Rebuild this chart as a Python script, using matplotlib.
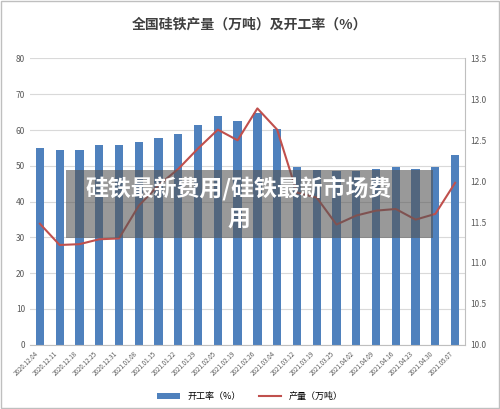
import matplotlib
matplotlib.use("Agg")
import matplotlib.pyplot as plt
from matplotlib.patches import Rectangle

plt.rcParams['font.family'] = ['Noto Sans CJK SC', 'DejaVu Sans']

dates = ["2020.12.04","2020.12.11","2020.12.18","2020.12.25","2020.12.31","2021.01.08",
         "2021.01.15","2021.01.22","2021.01.29","2021.02.05","2021.02.19","2021.02.26",
         "2021.03.04","2021.03.12","2021.03.19","2021.03.25","2021.04.02","2021.04.09",
         "2021.04.16","2021.04.23","2021.04.30","2021.05.07"]
rate = [55.1,54.4,54.5,55.7,55.7,56.7,57.9,59.0,61.4,63.8,62.5,64.8,
        60.4,49.6,48.8,48.6,48.7,49.2,49.6,49.2,49.6,53.0]
output = [11.48,11.22,11.23,11.29,11.30,11.70,11.95,12.15,12.40,12.63,12.50,12.89,
          12.63,11.86,11.80,11.47,11.58,11.64,11.66,11.53,11.60,11.98]

fig = plt.figure(figsize=(5.0, 4.09), dpi=100)
ax = fig.add_axes([0.06, 0.157, 0.87, 0.7])
ax2 = ax.twinx()
x = range(len(dates))
ax.bar(x, rate, width=0.42, color='#4f81bd', label='开工率（%）', zorder=2)
ax2.plot(x, output, color='#c0504d', lw=1.5, label='产量（万吨）', zorder=3)
ax.set_ylim(0, 80)
ax.set_yticks(range(0, 81, 10))
ax2.set_ylim(10, 13.5)
ax2.set_yticks([10 + 0.5*i for i in range(8)])
ax.set_xlim(-0.5, len(dates)-0.5)
ax.set_xticks(list(x))
ax.set_xticklabels(dates, rotation=45, ha='right', fontsize=4.5, color='#595959')
ax.grid(axis='y', color='#d9d9d9', lw=0.8, zorder=0)
ax.set_axisbelow(True)
for a in (ax, ax2):
    for s in a.spines.values():
        s.set_visible(False)
    a.tick_params(length=0, labelsize=6, colors='#595959')
ax.spines['bottom'].set_visible(True)
ax.spines['bottom'].set_color('#bfbfbf')
ax2.spines['right'].set_visible(True)
ax2.spines['right'].set_color('#bfbfbf')
ax.tick_params(axis='x', labelsize=4.5)

fig.text(0.5, 0.93, '全国硅铁产量（万吨）及开工率（%）', ha='center', fontsize=10,
         fontweight='bold', color='#404040')
h1, l1 = ax.get_legend_handles_labels()
h2, l2 = ax2.get_legend_handles_labels()
fig.legend(h1 + h2, l1 + l2, loc='lower center', bbox_to_anchor=(0.5, 0.0), ncol=2,
           frameon=False, fontsize=6.5, handlelength=2.5)

fig.patches.append(Rectangle((0.132, 0.418), 0.734, 0.166, transform=fig.transFigure,
                             facecolor='#555555', alpha=0.6, edgecolor='none', zorder=10))
fig.text(0.478, 0.54, '硅铁最新费用/硅铁最新市场费', ha='center', va='center', fontsize=16.5,
         fontweight='bold', color='white', zorder=11)
fig.text(0.478, 0.465, '用', ha='center', va='center', fontsize=16.5,
         fontweight='bold', color='white', zorder=11)
fig.patches.append(Rectangle((0.002, 0.002), 0.996, 0.996, transform=fig.transFigure,
                             facecolor='none', edgecolor='#bfbfbf', lw=1))
fig.savefig('out.png', dpi=100)
